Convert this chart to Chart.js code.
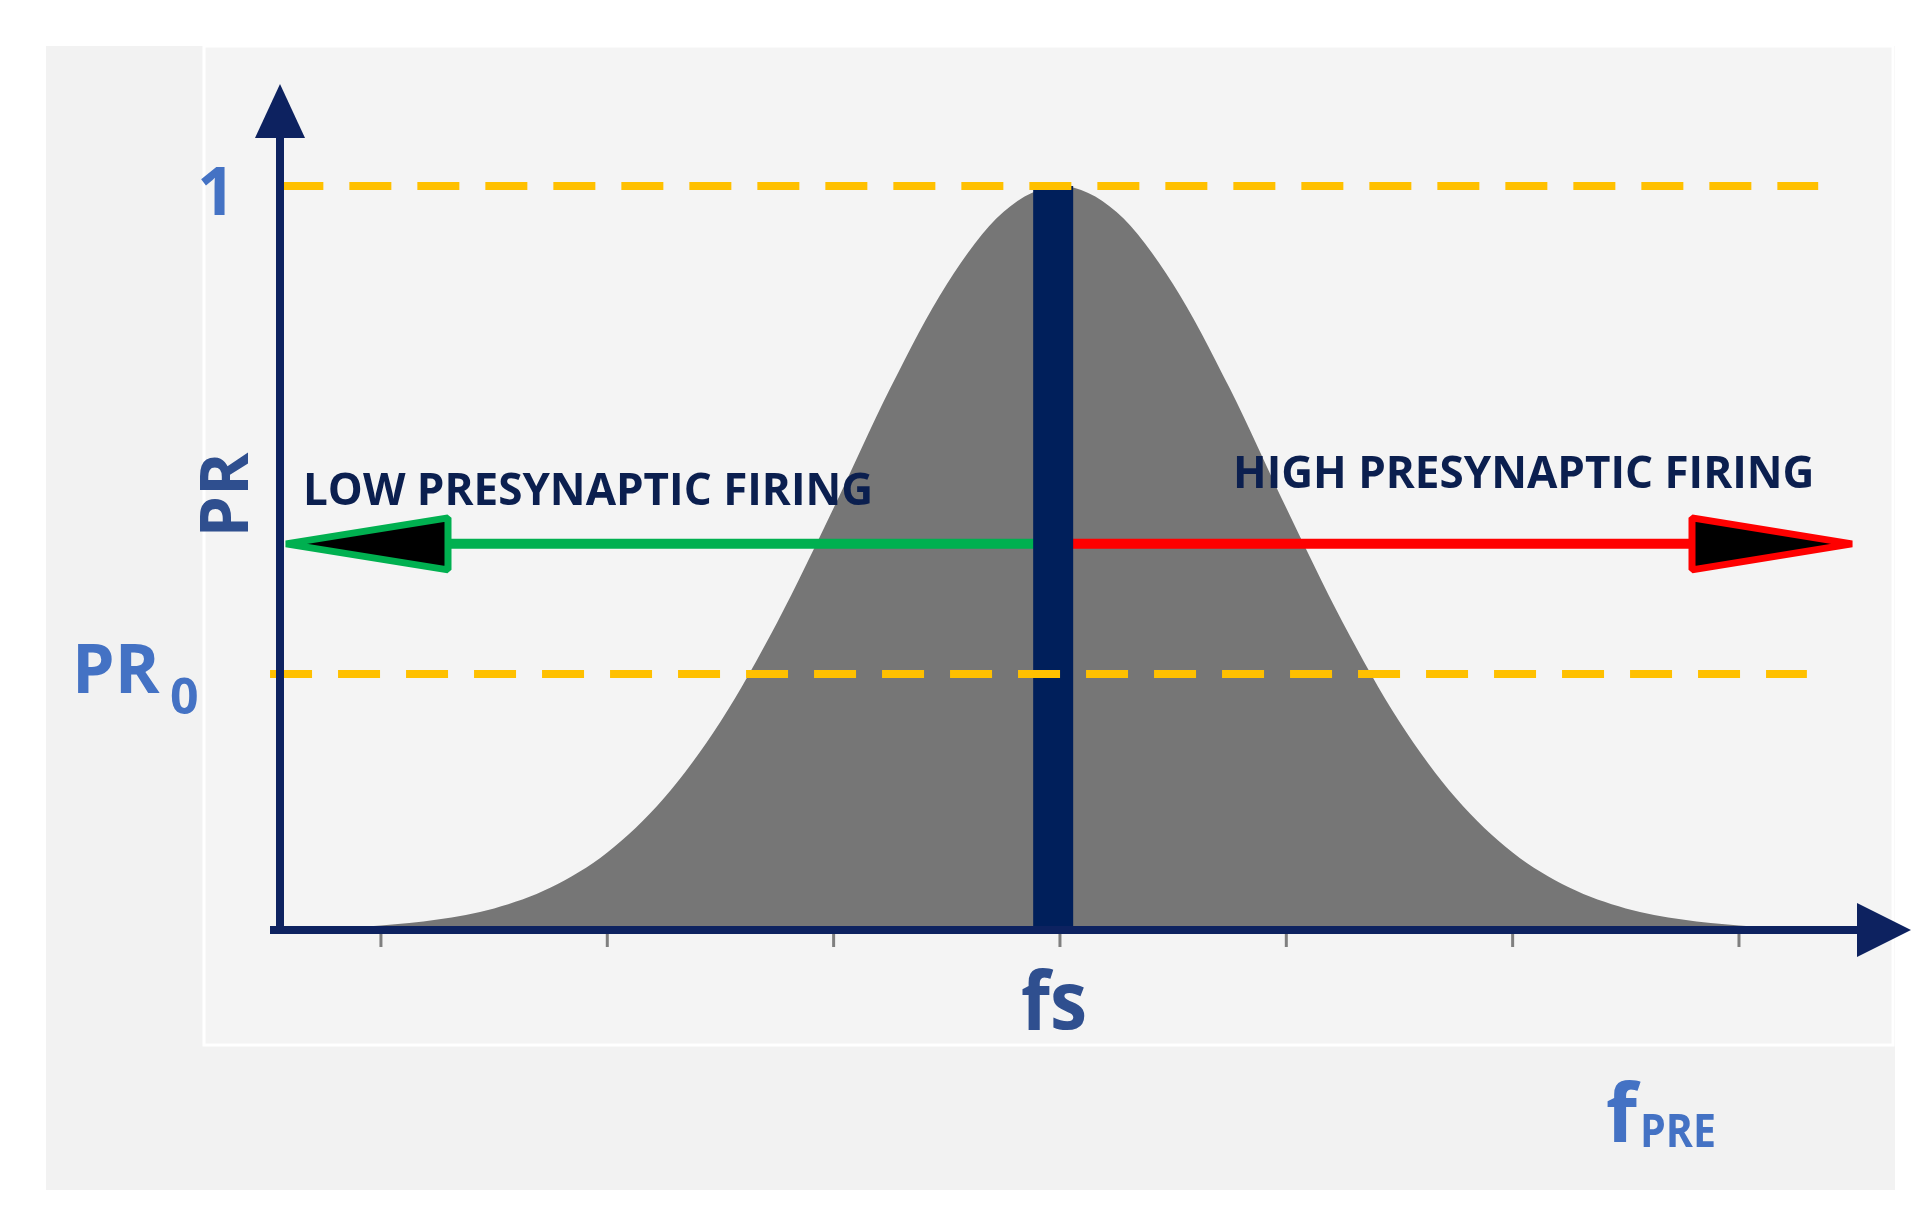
<!DOCTYPE html>
<html lang="en">
<head>
<meta charset="UTF-8">
<title>PR vs fPRE</title>
<script src="https://cdn.jsdelivr.net/npm/chart.js"></script>
<style>
    html, body { margin: 0; padding: 0; background: #ffffff; }
    #wrap { width: 1931px; height: 1217px; }
</style>
</head>
<body>
<div id="wrap"><canvas id="prChart"></canvas></div>
<script>
    // bell curve (x in tick units, peak at fs = 3)
    const curveX = [-0.25, 0, 0.25, 0.5, 0.75, 1, 1.25, 1.5, 1.75, 2, 2.25, 2.5, 2.75, 3,
                    3.25, 3.5, 3.75, 4, 4.25, 4.5, 4.75, 5, 5.25, 5.5, 5.75, 6, 6.25];
    const curveY = [0.001, 0.006, 0.014, 0.029, 0.057, 0.104, 0.177, 0.28, 0.413, 0.567, 0.728, 0.868, 0.965, 1.0,
                    0.965, 0.868, 0.728, 0.567, 0.413, 0.28, 0.177, 0.104, 0.057, 0.029, 0.014, 0.006, 0.001];
    const fsX = 2.97;
    const prOne = 1;
    const prZero = 0.344;
    const arrowLevel = 0.519;
    const tickPositions = [0, 1, 2, 3, 4, 5, 6];

    const navy = '#0d2260';
    const blue = '#4472c4';

    const bgPlugin = {
        id: 'bg',
        beforeDraw(chart) {
            const c = chart.ctx;
            c.save();
            c.fillStyle = '#f2f2f2';
            c.fillRect(46, 46, 1849, 1144);
            c.fillStyle = '#f4f4f4';
            c.fillRect(204, 46, 1689, 999);
            c.strokeStyle = '#ffffff';
            c.lineWidth = 3;
            c.strokeRect(204, 46, 1689, 999);
            c.restore();
        }
    };

    function tri(c, pts, fill, stroke) {
        c.beginPath();
        c.moveTo(pts[0][0], pts[0][1]);
        c.lineTo(pts[1][0], pts[1][1]);
        c.lineTo(pts[2][0], pts[2][1]);
        c.closePath();
        if (fill) { c.fillStyle = fill; c.fill(); }
        if (stroke) { c.strokeStyle = stroke; c.lineWidth = 7; c.lineJoin = 'bevel'; c.stroke(); }
    }

    const decoPlugin = {
        id: 'deco',
        afterDatasetsDraw(chart) {
            const c = chart.ctx;
            const xs = chart.scales.x, ys = chart.scales.y;
            const x0 = xs.getPixelForValue(xs.min), y0 = ys.getPixelForValue(0);
            const xEnd = xs.getPixelForValue(xs.max), yTop = ys.getPixelForValue(ys.max);
            c.save();
            // axes
            c.strokeStyle = navy;
            c.lineWidth = 8;
            c.beginPath();
            c.moveTo(x0, y0 + 4); c.lineTo(x0, yTop + 45);
            c.moveTo(x0 - 10, y0); c.lineTo(xEnd - 45, y0);
            c.stroke();
            tri(c, [[x0, yTop], [x0 - 25, yTop + 54], [x0 + 25, yTop + 54]], navy);
            tri(c, [[xEnd, y0], [xEnd - 54, y0 - 27], [xEnd - 54, y0 + 27]], navy);
            // ticks
            c.lineWidth = 3;
            c.strokeStyle = '#7f7f7f';
            tickPositions.forEach(t => {
                const px = xs.getPixelForValue(t);
                c.beginPath(); c.moveTo(px, y0 + 4); c.lineTo(px, y0 + 17); c.stroke();
            });
            // arrow heads
            const ay = ys.getPixelForValue(arrowLevel);
            tri(c, [[x0 + 6, ay], [x0 + 168, ay - 26], [x0 + 168, ay + 26]], '#000000', '#00b050');
            tri(c, [[1852, ay], [1692, ay - 26], [1692, ay + 26]], '#000000', '#ff0000');
            // text
            c.textBaseline = 'middle';
            c.fillStyle = blue;
            c.font = 'bold 66px "Open Sans"';
            c.textAlign = 'center';
            c.fillText('1', 216, 196);
            c.textAlign = 'left';
            c.font = 'bold 68px "Open Sans"';
            c.fillText('PR', 72, 674, 100);
            c.font = 'bold 50px "Open Sans"';
            c.fillText('0', 170, 700);
            c.fillStyle = '#2f4f8f';
            c.save();
            c.translate(229, 495);
            c.rotate(-Math.PI / 2);
            c.textAlign = 'center';
            c.font = 'bold 66px "Open Sans"';
            c.fillText('PR', 0, 0);
            c.restore();
            c.fillStyle = '#0b1f4f';
            c.font = 'bold 44px "Open Sans"';
            c.fillText('LOW PRESYNAPTIC FIRING', 303, 492, 600);
            c.fillText('HIGH PRESYNAPTIC FIRING', 1233, 475, 606);
            c.fillStyle = '#2f4f8f';
            c.textAlign = 'center';
            c.font = 'bold 80px "Open Sans"';
            c.fillText('fs', 1054, 1006, 66);
            c.fillStyle = blue;
            c.textAlign = 'left';
            c.font = 'bold 80px "Open Sans"';
            c.fillText('f', 1606, 1118);
            c.font = 'bold 46px "Open Sans"';
            c.fillText('PRE', 1640, 1134, 76);
            c.restore();
        }
    };

    new Chart(document.getElementById('prChart'), {
        type: 'line',
        data: {
            datasets: [
                {
                    data: curveX.map((x, i) => ({ x: x, y: curveY[i] })),
                    backgroundColor: '#767676', borderWidth: 0, fill: 'origin',
                    pointRadius: 0, cubicInterpolationMode: 'monotone', order: 6
                },
                {
                    data: [{ x: fsX, y: 0 }, { x: fsX, y: prOne }],
                    borderColor: '#001f5b', borderWidth: 40, borderCapStyle: 'butt',
                    pointRadius: 0, order: 3
                },
                {
                    data: [{ x: -0.3, y: arrowLevel }, { x: fsX, y: arrowLevel }],
                    borderColor: '#00b050', borderWidth: 10, pointRadius: 0, order: 4
                },
                {
                    data: [{ x: fsX, y: arrowLevel }, { x: 6.1, y: arrowLevel }],
                    borderColor: '#ff0000', borderWidth: 10, pointRadius: 0, order: 4
                },
                {
                    data: [{ x: -0.44, y: prOne }, { x: 6.35, y: prOne }],
                    borderColor: '#ffc000', borderWidth: 8, borderDash: [42, 26],
                    pointRadius: 0, order: 1
                },
                {
                    data: [{ x: -0.49, y: prZero }, { x: 6.3, y: prZero }],
                    borderColor: '#ffc000', borderWidth: 8, borderDash: [42, 26],
                    pointRadius: 0, order: 1
                }
            ]
        },
        options: {
            responsive: true,
            maintainAspectRatio: false,
            animation: false,
            events: [],
            layout: { padding: { left: 280, right: 20, top: 84, bottom: 287 } },
            plugins: { legend: { display: false }, tooltip: { enabled: false } },
            scales: {
                x: { type: 'linear', min: -0.446, max: 6.76, display: false },
                y: { type: 'linear', min: 0, max: 1.137, display: false }
            },
            clip: false
        },
        plugins: [bgPlugin, decoPlugin]
    });
</script>
</body>
</html>
